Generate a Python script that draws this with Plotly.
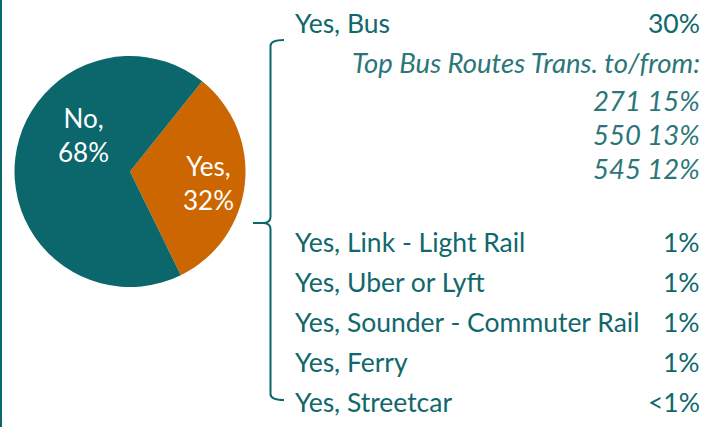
import plotly.graph_objects as go

W, H = 712, 427

# ---- data ----
pie_labels = ["Yes", "No"]
pie_values = [32, 68]
pie_colors = ["#cc6600", "#0b676b"]

main_label = "Yes, Bus"
main_value = "30%"
sub_title = "Top Bus Routes Trans. to/from:"
route_ids = ["271", "550", "545"]
route_values = ["15%", "13%", "12%"]
other_labels = ["Yes, Link - Light Rail", "Yes, Uber or Lyft",
                "Yes, Sounder - Commuter Rail", "Yes, Ferry", "Yes, Streetcar"]
other_values = ["1%", "1%", "1%", "1%", "<1%"]

TEAL = "#0b676b"
TXT = "#11686c"
FONT = "Lato"


def px(x):
    return x / W


def py(y):
    return 1 - y / H


fig = go.Figure()

cx, cy, r = 130, 171.5, 115.5
fig.add_trace(go.Pie(
    labels=pie_labels, values=pie_values, sort=False, direction="clockwise",
    rotation=38.7, marker=dict(colors=pie_colors, line=dict(width=0)),
    textinfo="none", hoverinfo="label+percent", showlegend=False,
    domain=dict(x=[px(cx - r), px(cx + r)], y=[py(cy + r), py(cy - r)]),
))

ann = []
pie_label_pos = {"Yes": (208, 183), "No": (83, 135)}
for lab, val in zip(pie_labels, pie_values):
    x, y = pie_label_pos[lab]
    ann.append(dict(x=px(x), y=py(y), xref="paper", yref="paper",
                    xanchor="center", yanchor="middle",
                    text=f"{lab},<br>{val}%", showarrow=False,
                    font=dict(family=FONT, size=26, color="white")))

LX, RX = 293, 702


def row(label, value, y, italic=False):
    f = dict(family=FONT, size=26.5, color=TXT)
    if italic:
        f = dict(family=FONT, size=27.5, color="#2b7679", style="italic")
    if label:
        ann.append(dict(x=px(LX), y=py(y), xref="paper", yref="paper",
                        xanchor="left", yanchor="middle", text=label,
                        showarrow=False, font=f))
    if value:
        ann.append(dict(x=px(RX), y=py(y), xref="paper", yref="paper",
                        xanchor="right", yanchor="middle", text=value,
                        showarrow=False, font=f))


row(main_label, main_value, 23)
row(None, sub_title, 63, italic=True)
for i, (rid, rv) in enumerate(zip(route_ids, route_values)):
    row(None, f"{rid} {rv}", 100 + i * 34, italic=True)
for i, (lab, val) in enumerate(zip(other_labels, other_values)):
    row(lab, val, 242 + i * 40)

shapes = []
# left vertical rule
shapes.append(dict(type="line", xref="paper", yref="paper",
                   x0=px(1), x1=px(1), y0=0, y1=1,
                   line=dict(color=TEAL, width=2)))
# bracket
bx, top, mid, bot = 270.5, 40, 223, 400
path = (f"M {px(284)} {py(top)} Q {px(bx)} {py(top)} {px(bx)} {py(top + 6)} "
        f"L {px(bx)} {py(mid - 6)} Q {px(bx)} {py(mid)} {px(bx - 8)} {py(mid)} "
        f"L {px(253)} {py(mid)} M {px(bx - 8)} {py(mid)} "
        f"Q {px(bx)} {py(mid)} {px(bx)} {py(mid + 6)} "
        f"L {px(bx)} {py(bot - 6)} Q {px(bx)} {py(bot)} {px(284)} {py(bot)}")
shapes.append(dict(type="path", xref="paper", yref="paper", path=path,
                   line=dict(color=TEAL, width=2)))

fig.update_layout(
    width=W, height=H, margin=dict(l=0, r=0, t=0, b=0),
    paper_bgcolor="white", plot_bgcolor="white",
    annotations=ann, shapes=shapes,
    xaxis=dict(visible=False), yaxis=dict(visible=False),
)
fig.write_html("out.html", config={"displayModeBar": False},
               post_script="document.body.style.margin='0';")
